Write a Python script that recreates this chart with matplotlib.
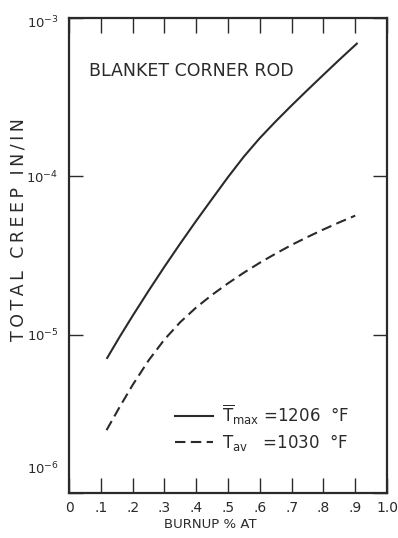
import matplotlib
matplotlib.use("Agg")
import matplotlib.pyplot as plt
from matplotlib.ticker import NullLocator, FixedLocator
from matplotlib.transforms import ScaledTranslation

# ---- data ----
burnup_max = [0.12, 0.16, 0.20, 0.25, 0.30, 0.35, 0.40, 0.45, 0.50, 0.55, 0.60, 0.65, 0.70, 0.75,
              0.80, 0.85, 0.905]
creep_max = [7.13e-6, 9.75e-6, 1.315e-5, 1.890e-5, 2.685e-5, 3.77e-5, 5.24e-5, 7.21e-5, 9.89e-5,
             1.334e-4, 1.745e-4, 2.225e-4, 2.805e-4, 3.512e-4, 4.379e-4, 5.45e-4, 6.89e-4]

burnup_av = [0.118, 0.16, 0.20, 0.25, 0.30, 0.35, 0.40, 0.45, 0.50, 0.55, 0.60, 0.65, 0.70, 0.75,
             0.80, 0.85, 0.90]
creep_av = [2.495e-6, 3.516e-6, 4.81e-6, 6.87e-6, 9.32e-6, 1.201e-5, 1.486e-5, 1.786e-5, 2.111e-5,
            2.466e-5, 2.847e-5, 3.251e-5, 3.690e-5, 4.140e-5, 4.618e-5, 5.122e-5, 5.649e-5]

x_ticks = [0, 0.1, 0.2, 0.3, 0.4, 0.5, 0.6, 0.7, 0.8, 0.9, 1.0]
x_ticklabels = ["0", ".1", ".2", ".3", ".4", ".5", ".6", ".7", ".8", ".9", "1.0"]
y_ticks = [1e-6, 1e-5, 1e-4, 1e-3]
y_ticklabels = [r"$10^{-6}$", r"$10^{-5}$", r"$10^{-4}$", r"$10^{-3}$"]

label_max = r"$\overline{\mathrm{T}}_{\mathrm{max}}$ =1206  °F"
label_av = r"$\mathrm{T}_{\mathrm{av}}$   =1030  °F"
title_text = "BLANKET CORNER ROD"
xlabel_text = "BURNUP % AT"
ylabel_text = "TOTAL CREEP IN/IN"

ink = "#2a2a2a"
plt.rcParams["mathtext.default"] = "regular"
plt.rcParams["font.family"] = ["DejaVu Sans"]

fig = plt.figure(figsize=(3.98, 5.38), dpi=100)
ax = fig.add_axes([0.1734, 0.0836, 0.799, 0.8829])

ax.plot(burnup_max, creep_max, color=ink, lw=1.5, label=label_max)
l2, = ax.plot(burnup_av, creep_av, color=ink, lw=1.5, label=label_av)
l2.set_dashes([5, 2.6])

ax.set_yscale("log")
ax.set_xlim(0, 1.0)
ax.set_ylim(1e-6, 1e-3)

ax.xaxis.set_major_locator(FixedLocator(x_ticks))
ax.set_xticklabels(x_ticklabels)
ax.yaxis.set_major_locator(FixedLocator(y_ticks))
ax.set_yticklabels(y_ticklabels)
ax.yaxis.set_minor_locator(NullLocator())
ax.xaxis.set_minor_locator(NullLocator())

ax.tick_params(axis="x", direction="in", length=11, width=1.0, top=True, bottom=True,
               labelsize=10, pad=6, colors=ink)
ax.tick_params(axis="y", direction="in", length=10, width=1.0, left=True, right=True,
               labelsize=9.5, pad=7.5, colors=ink)

# shift the bottom y label up, as in the reference
lbl = ax.get_yticklabels()[0]
lbl.set_transform(lbl.get_transform() + ScaledTranslation(0, 26 / 100, fig.dpi_scale_trans))
lbl_top = ax.get_yticklabels()[-1]
lbl_top.set_transform(lbl_top.get_transform() + ScaledTranslation(0, -3 / 100, fig.dpi_scale_trans))

for s in ax.spines.values():
    s.set_linewidth(1.6)
    s.set_color(ink)

ax.text(0.063, 0.888, title_text, transform=ax.transAxes, fontsize=12.5, color=ink,
        va="center", ha="left")

fig.text(210 / 398, 1 - 525 / 538, xlabel_text, ha="center", va="center", fontsize=9.5, color=ink)
spaced_ylabel = "\u2009".join(ylabel_text)
fig.text(19 / 398, 1 - 230 / 538, spaced_ylabel, ha="center", va="center", rotation=90,
         fontsize=12.5, color=ink)

leg = ax.legend(loc="center left", bbox_to_anchor=(0.307, 0.137), frameon=False,
                fontsize=12, handlelength=2.3, handletextpad=0.5, labelspacing=0.3,
                borderpad=0, labelcolor=ink)

fig.savefig("out.png", dpi=100, facecolor="white")
